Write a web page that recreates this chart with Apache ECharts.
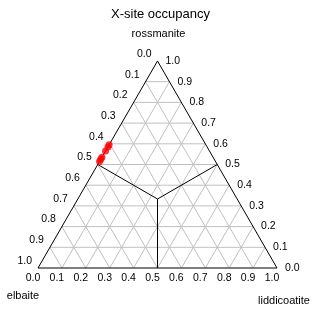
<!DOCTYPE html>
<html>
<head>
<meta charset="utf-8">
<script src="https://cdn.jsdelivr.net/npm/echarts@6/dist/echarts.min.js"></script>
<style>
html,body{margin:0;padding:0;background:#fff;}
#chart{width:321px;height:309px;}
</style>
</head>
<body>
<div id="chart"></div>
<script>
// ---- data ----
const titleText = 'X-site occupancy';
const vertexNames = ['rossmanite', 'elbaite', 'liddicoatite'];
const tickLabels = ['0.0','0.1','0.2','0.3','0.4','0.5','0.6','0.7','0.8','0.9','1.0'];
const tickValues = [0, 0.1, 0.2, 0.3, 0.4, 0.5, 0.6, 0.7, 0.8, 0.9, 1.0];
// sample compositions (fractions)
const elbaite      = [0.405, 0.415, 0.435, 0.465, 0.475, 0.485];
const rossmanite   = [0.595, 0.585, 0.565, 0.535, 0.525, 0.515];
const liddicoatite = [0.000, 0.000, 0.000, 0.000, 0.000, 0.000];

// ---- ternary -> cartesian (elbaite at (0,0), liddicoatite at (1,0), rossmanite at top) ----
const H = Math.sqrt(3) / 2;
function tern(r, l) { return [l + r / 2, r * H]; }

// grid segments
const gridSegs = [];
tickValues.slice(1, -1).forEach(v => {
  // constant rossmanite (horizontal)
  const a = tern(v, 0), b = tern(v, 1 - v);
  gridSegs.push([a[0], a[1], b[0], b[1]]);
  // constant liddicoatite
  const c = tern(0, v), d = tern(1 - v, v);
  gridSegs.push([c[0], c[1], d[0], d[1]]);
  // constant elbaite
  const e = tern(0, 1 - v), f = tern(1 - v, 0);
  gridSegs.push([e[0], e[1], f[0], f[1]]);
});
// triangle edges + field boundaries
const cen = tern(1 / 3, 1 / 3);
const frameSegs = [
  [...tern(0, 0), ...tern(0, 1)],
  [...tern(0, 1), ...tern(1, 0)],
  [...tern(1, 0), ...tern(0, 0)],
  [...cen, ...tern(0.5, 0)],
  [...cen, ...tern(0.5, 0.5)],
  [...cen, ...tern(0, 0.5)]
];

const points = elbaite.map((e, i) => tern(rossmanite[i], liddicoatite[i]));

// label data: bottom = liddicoatite, left = elbaite (0 at top), right = rossmanite
const bottomLabels = tickValues.map((v, i) => [...tern(0, v), tickLabels[i]]);
const leftLabels = tickValues.map((v, i) => [...tern(1 - v, 0), tickLabels[i]]);
const rightLabels = tickValues.map((v, i) => [...tern(v, 1 - v), tickLabels[i]]);
const vertexLabels = [
  [...tern(1, 0), vertexNames[0]],
  [...tern(0, 0), vertexNames[1]],
  [...tern(0, 1), vertexNames[2]]
];

const FONT = 'Liberation Sans, Arial, sans-serif';

function segSeries(data, color, z) {
  return {
    type: 'custom', data: data, z: z, silent: true,
    encode: { x: [0, 2], y: [1, 3] },
    renderItem: function (params, api) {
      const p1 = api.coord([api.value(0), api.value(1)]);
      const p2 = api.coord([api.value(2), api.value(3)]);
      return { type: 'line', shape: { x1: p1[0], y1: p1[1], x2: p2[0], y2: p2[1] },
               style: { stroke: color, lineWidth: 1 } };
    }
  };
}
function labelSeries(data, dx, dy, align, size) {
  return {
    type: 'custom', data: data, z: 5, silent: true,
    encode: { x: 0, y: 1 },
    renderItem: function (params, api) {
      const p = api.coord([api.value(0), api.value(1)]);
      const t = data[params.dataIndex][2];
      return { type: 'text', x: p[0] + dx, y: p[1] + dy,
               style: { text: t, fill: '#000', font: size + 'px ' + FONT,
                        align: align, verticalAlign: 'middle' } };
    }
  };
}

const chart = echarts.init(document.getElementById('chart'));
chart.setOption({
  animation: false,
  backgroundColor: '#fff',
  title: { text: titleText, left: 'center', top: 3,
           textStyle: { fontSize: 13, fontWeight: 'normal', color: '#000', fontFamily: FONT } },
  grid: { left: 38, top: 61, width: 239, height: 207 },
  xAxis: { type: 'value', min: 0, max: 1, show: false },
  yAxis: { type: 'value', min: 0, max: H, show: false },
  series: [
    segSeries(gridSegs, '#c0c0c0', 1),
    segSeries(frameSegs, '#000', 2),
    labelSeries(bottomLabels, -5, 10, 'center', 10.5),
    labelSeries(leftLabels, -6, -7, 'right', 10.5),
    labelSeries(rightLabels, 8, 0, 'left', 10.5),
    {
      type: 'custom', data: vertexLabels, z: 5, silent: true,
      encode: { x: 0, y: 1 },
      renderItem: function (params, api) {
        const p = api.coord([api.value(0), api.value(1)]);
        const offs = [[1, -27, 'center'], [-15, 28, 'center'], [7, 33, 'center']];
        const o = offs[params.dataIndex];
        return { type: 'text', x: p[0] + o[0], y: p[1] + o[1],
                 style: { text: vertexLabels[params.dataIndex][2], fill: '#000',
                          font: '11px ' + FONT, align: o[2], verticalAlign: 'middle' } };
      }
    },
    {
      type: 'scatter', data: points, z: 10, symbol: 'circle', symbolSize: 7,
      itemStyle: { color: '#ff0000' }
    }
  ]
});
</script>
</body>
</html>
